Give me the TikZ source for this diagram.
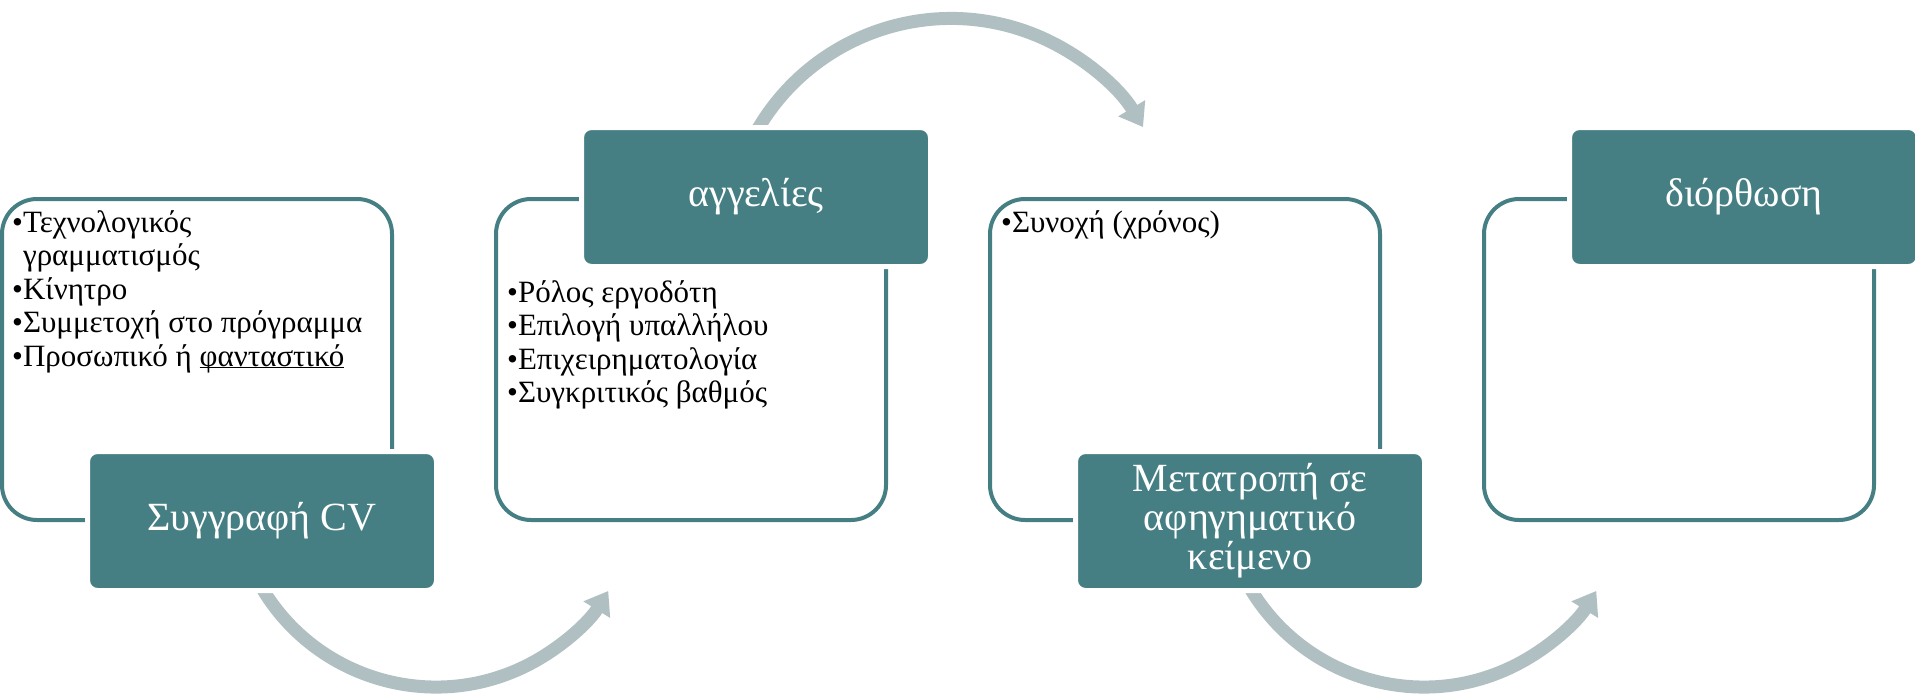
\documentclass[tikz,border=0pt]{standalone}
\usepackage{fontspec}
\setmainfont{Liberation Serif}
\usepackage{tikz}
\usetikzlibrary{arrows.meta}
\definecolor{tealbox}{RGB}{69,127,131}
\definecolor{arrowgray}{RGB}{176,192,194}

\begin{document}
\begin{tikzpicture}[x=1pt, y=-1pt,
    panel/.style={draw=tealbox, line width=4pt, rounded corners=35pt, minimum width=390pt, minimum height=321pt, inner sep=0pt},
    stage/.style={fill=tealbox, draw=white, line width=5pt, rounded corners=10pt, minimum width=349pt, minimum height=139pt, inner sep=0pt, text=white, align=center, font=\fontsize{40}{39}\selectfont},
    items/.style={anchor=north west, align=left, inner sep=0pt, font=\fontsize{31}{33.5}\selectfont},
    flow/.style={draw=arrowgray, line width=13pt, -{Triangle[length=22pt, width=30pt]}}]
    \useasboundingbox (0,0) rectangle (1915,696);

    % Rahmen.
    \foreach \i in {0,...,3}
    {
        \node[panel] (p\i) at (197+494*\i,359.5) {};
    }

    % Pfeile.
    \coordinate (a0) at (257.2,579.6);
    \coordinate (a1) at (748,147.8);
    \coordinate (a2) at (1245.2,579.6);
    \draw[flow] (a0) arc[start angle=152, end angle=31.7, radius=202.5];
    \draw[flow] (a1) arc[start angle=205, end angle=329, radius=224];
    \draw[flow] (a2) arc[start angle=152, end angle=31.7, radius=202.5];

    % Kaesten.
    \node[stage] (s0) at (262,521) {Συγγραφή CV};
    \node[stage] (s1) at (756,197) {αγγελίες};
    \node[stage] (s2) at (1250,521) {Μετατροπή σε\\αφηγηματικό\\κείμενο};
    \node[stage] (s3) at (1744,197) {διόρθωση};

    % Beschriftung.
    \node[items] (t0) at (12,210) {•Τεχνολογικός\\\phantom{•}γραμματισμός\\•Κίνητρο\\•Συμμετοχή στο πρόγραμμα\\•Προσωπικό ή \underline{\smash{φανταστικό}}};
    \node[items] (t1) at (507,280) {•Ρόλος εργοδότη\\•Επιλογή υπαλλήλου\\•Επιχειρηματολογία\\•Συγκριτικός βαθμός};
    \node[items] (t2) at (1001,210) {•Συνοχή (χρόνος)};
\end{tikzpicture}
\end{document}
